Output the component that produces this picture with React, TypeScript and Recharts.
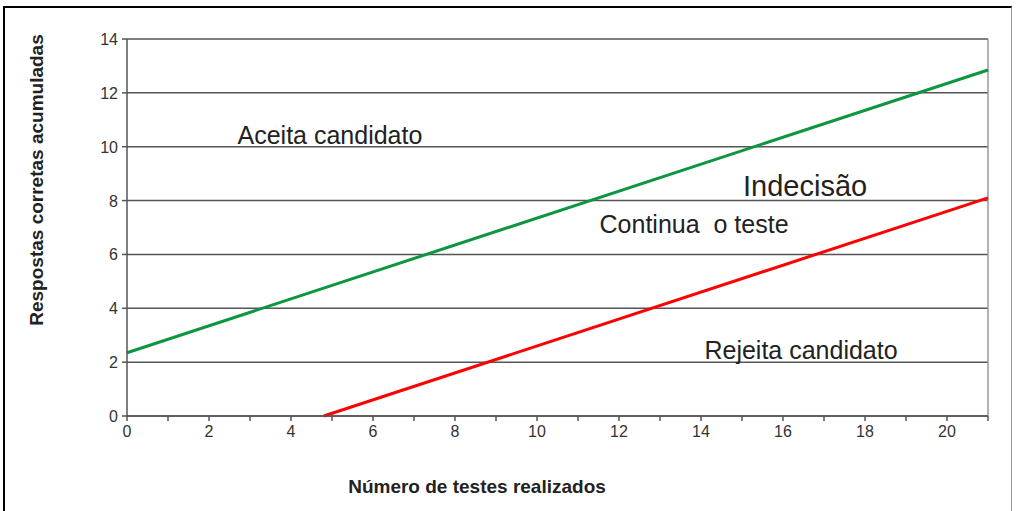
import React from "react";
import {
  LineChart,
  Line,
  XAxis,
  YAxis,
  CartesianGrid,
  ReferenceLine,
  ReferenceDot,
} from "recharts";

// accept / reject boundaries (x = tests done, y = accumulated correct answers)
const acceptX = [0, 21];
const acceptY = [2.35, 12.85];
const rejectX = [4.8, 21];
const rejectY = [0, 8.1];

const xTicks = [0, 1, 2, 3, 4, 5, 6, 7, 8, 9, 10, 11, 12, 13, 14, 15, 16, 17, 18, 19, 20, 21];
const yTicks = [0, 2, 4, 6, 8, 10, 12, 14];

// region notes: [text, x, y, font size]
const notes: [string, number, number, number][] = [
  ["Aceita candidato", 4.95, 10.43, 25],
  ["Indecisão", 16.54, 8.54, 29],
  ["Continua  o teste", 13.83, 7.13, 25],
  ["Rejeita candidato", 16.44, 2.45, 25],
];

const acceptData = acceptX.map((x, i) => ({ x, y: acceptY[i] }));
const rejectData = rejectX.map((x, i) => ({ x, y: rejectY[i] }));

const font = "'Liberation Sans', Arial, sans-serif";

function XTick(props: any) {
  const { x, y, payload } = props;
  if (payload.value % 2 !== 0) return null;
  return (
    <text x={x} y={y + 14} textAnchor="middle" fontSize={16} fill="#333" fontFamily={font}>
      {payload.value}
    </text>
  );
}

function YTick(props: any) {
  const { x, y, payload } = props;
  return (
    <text x={x - 2} y={y + 6} textAnchor="end" fontSize={16} fill="#333" fontFamily={font}>
      {payload.value}
    </text>
  );
}

function NoteLabel(props: any) {
  const { viewBox, value, size } = props;
  const cx = viewBox.x + (viewBox.width || 0) / 2;
  const cy = viewBox.y + (viewBox.height || 0) / 2;
  return (
    <text
      x={cx}
      y={cy}
      textAnchor="middle"
      dominantBaseline="central"
      fontSize={size}
      fill="#222"
      fontFamily={font}
      style={{ whiteSpace: "pre" }}
    >
      {value}
    </text>
  );
}

export default function App() {
  return (
    <div
      style={{
        position: "absolute",
        left: 0,
        top: 0,
        width: 1016,
        height: 511,
        background: "#fff",
        fontFamily: font,
        overflow: "hidden",
      }}
    >
      <div
        style={{
          position: "absolute",
          left: 3,
          top: 6,
          width: 1006,
          height: 520,
          borderLeft: "2px solid #000",
          borderTop: "2px solid #000",
          borderRight: "1px solid #999",
        }}
      />
      <LineChart
        width={1016}
        height={511}
        margin={{ top: 39, right: 28, bottom: 65, left: 67 }}
        style={{ position: "absolute", left: 0, top: 0 }}
      >
        <CartesianGrid horizontal vertical={false} stroke="#555" strokeWidth={1.5} />
        <XAxis
          type="number"
          dataKey="x"
          domain={[0, 21]}
          ticks={xTicks}
          interval={0}
          height={30}
          tick={<XTick />}
          tickSize={5}
          tickMargin={2}
          axisLine={{ stroke: "#555", strokeWidth: 1.5 }}
          tickLine={{ stroke: "#555", strokeWidth: 1.5 }}
          allowDecimals={false}
        />
        <YAxis
          type="number"
          domain={[0, 14]}
          ticks={yTicks}
          interval={0}
          width={60}
          tick={<YTick />}
          tickSize={5}
          tickMargin={2}
          axisLine={{ stroke: "#555", strokeWidth: 1.5 }}
          tickLine={{ stroke: "#555", strokeWidth: 1.5 }}
        />
        <ReferenceLine x={21} stroke="#999" strokeWidth={1.5} />
        <Line
          data={acceptData}
          dataKey="y"
          stroke="#0c9640"
          strokeWidth={3}
          dot={false}
          isAnimationActive={false}
        />
        <Line
          data={rejectData}
          dataKey="y"
          stroke="#ff0000"
          strokeWidth={3}
          dot={false}
          isAnimationActive={false}
        />
        {notes.map(([text, x, y, size]) => (
          <ReferenceDot
            key={text}
            x={x}
            y={y}
            r={0}
            fill="none"
            stroke="none"
            label={<NoteLabel value={text} size={size} />}
          />
        ))}
      </LineChart>
      <div
        style={{
          position: "absolute",
          left: 37,
          top: 180,
          transform: "translate(-50%, -50%) rotate(-90deg)",
          whiteSpace: "nowrap",
          fontWeight: "bold",
          fontSize: 19,
          color: "#222",
        }}
      >
        Respostas corretas acumuladas
      </div>
      <div
        style={{
          position: "absolute",
          left: 477,
          top: 487,
          transform: "translate(-50%, -50%)",
          whiteSpace: "nowrap",
          fontWeight: "bold",
          fontSize: 19,
          color: "#222",
        }}
      >
        Número de testes realizados
      </div>
    </div>
  );
}
